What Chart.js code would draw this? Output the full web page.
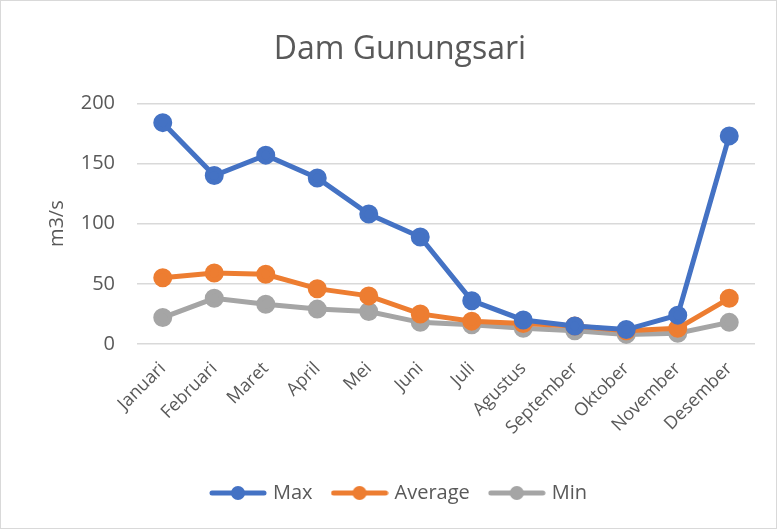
<!DOCTYPE html>
<html>
<head>
<meta charset="utf-8">
<script src="https://cdn.jsdelivr.net/npm/chart.js@4.4.1/dist/chart.umd.min.js"></script>
<style>
    html, body { margin: 0; padding: 0; background: #fff; }
    .frame {
        width: 775px;
        height: 527px;
        border: 1px solid #d9d9d9;
        position: relative;
    }
</style>
</head>
<body>
<div class="frame">
    <canvas id="damChart" width="775" height="527"></canvas>
</div>
<script>
// ===== DATA =====
const months = ['Januari', 'Februari', 'Maret', 'April', 'Mei', 'Juni', 'Juli', 'Agustus', 'September', 'Oktober', 'November', 'Desember'];
const maxFlow = [184, 140, 157, 138, 108, 89, 36, 20, 15, 12, 24, 173];
const avgFlow = [55, 59, 58, 46, 40, 25, 19, 17, 15, 11, 13, 38];
const minFlow = [22, 38, 33, 29, 27, 18, 16, 13, 11, 8, 9, 18];
const yTicks = [0, 50, 100, 150, 200];

const textColor = '#595959';
const fontFamily = "'Open Sans', 'Noto Sans', sans-serif";

// legend marker: short line with a dot in the middle, like Excel
function legendMarker(color) {
    const c = document.createElement('canvas');
    c.width = 58;
    c.height = 16;
    const g = c.getContext('2d');
    g.strokeStyle = color;
    g.lineWidth = 5;
    g.lineCap = 'round';
    g.beginPath();
    g.moveTo(3, 8);
    g.lineTo(55, 8);
    g.stroke();
    g.fillStyle = color;
    g.beginPath();
    g.arc(29, 8, 7, 0, Math.PI * 2);
    g.fill();
    return c;
}

function series(label, data, color) {
    return {
        label: label,
        data: data,
        borderColor: color,
        backgroundColor: color,
        borderWidth: 5,
        pointRadius: 7,
        pointHoverRadius: 7,
        pointBackgroundColor: color,
        pointBorderColor: color,
        tension: 0,
        fill: false
    };
}

const chart = new Chart(document.getElementById('damChart'), {
    type: 'line',
    data: {
        labels: months,
        datasets: [
            series('Max', maxFlow, '#4472C4'),
            series('Average', avgFlow, '#ED7D31'),
            series('Min', minFlow, '#A5A5A5')
        ]
    },
    options: {
        responsive: false,
        animation: false,
        layout: {
            padding: { top: 0, left: 44, right: 21, bottom: 15 }
        },
        plugins: {
            title: {
                display: true,
                text: 'Dam Gunungsari',
                color: textColor,
                font: { size: 32, family: fontFamily, weight: 'normal' },
                padding: { top: 30, bottom: 34 }
            },
            legend: {
                position: 'bottom',
                labels: {
                    color: textColor,
                    font: { size: 20, family: fontFamily },
                    usePointStyle: true,
                    pointStyleWidth: 50,
                    padding: 22,
                    generateLabels: function(ch) {
                        return ch.data.datasets.map((ds, i) => ({
                            text: ds.label,
                            fillStyle: ds.borderColor,
                            strokeStyle: ds.borderColor,
                            fontColor: textColor,
                            lineWidth: 0,
                            pointStyle: legendMarker(ds.borderColor),
                            datasetIndex: i,
                            hidden: false
                        }));
                    }
                }
            },
            tooltip: { enabled: false }
        },
        scales: {
            x: {
                offset: true,
                grid: { display: false },
                border: { display: false },
                ticks: {
                    color: textColor,
                    font: { size: 18, family: fontFamily },
                    minRotation: 45,
                    maxRotation: 45,
                    padding: 6
                },
                afterFit: function(axis) { axis.height = 117; }
            },
            y: {
                min: 0,
                max: 200,
                afterBuildTicks: function(axis) {
                    axis.ticks = yTicks.map(v => ({ value: v }));
                },
                grid: {
                    color: '#d9d9d9',
                    lineWidth: 1.5,
                    drawTicks: false
                },
                border: { display: false },
                ticks: {
                    color: textColor,
                    font: { size: 20, family: fontFamily },
                    padding: 22
                },
                title: {
                    display: true,
                    text: 'm3/s',
                    color: textColor,
                    font: { size: 20, family: fontFamily },
                    padding: 0
                },
                afterFit: function(axis) { axis.width = 92; }
            }
        }
    }
});
</script>
</body>
</html>
